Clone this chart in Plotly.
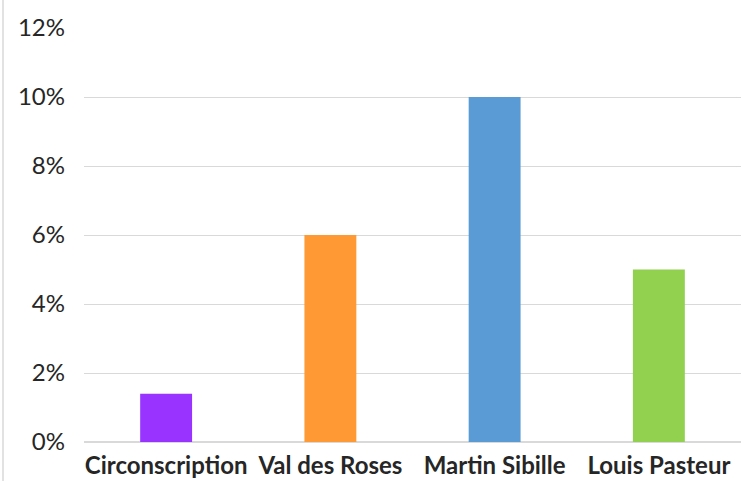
import plotly.graph_objects as go

categories = ["Circonscription", "Val des Roses", "Martin Sibille", "Louis Pasteur"]
values = [0.014, 0.06, 0.10, 0.05]
colors = ["#9933FF", "#FF9933", "#5B9BD5", "#92D050"]
y_ticks = [0, 0.02, 0.04, 0.06, 0.08, 0.10, 0.12]
y_labels = ["0%", "2%", "4%", "6%", "8%", "10%", "12%"]

fig = go.Figure(go.Bar(x=categories, y=values, marker=dict(color=colors, line=dict(width=0)),
                       hoverinfo="x+y"))

fig.update_layout(
    width=741, height=481,
    margin=dict(l=84, r=0, t=28, b=39),
    paper_bgcolor="white", plot_bgcolor="white",
    bargap=0.684,
    showlegend=False,
    font=dict(family="Lato, Carlito, Calibri, sans-serif", color="#262626"),
    xaxis=dict(showgrid=False, showline=False, zeroline=False, ticks="",
               ticklabelstandoff=7,
               tickfont=dict(size=24, family="Lato, sans-serif", weight="bold", color="#262626")),
    yaxis=dict(range=[0, 0.12], tickvals=y_ticks, ticktext=y_labels,
               showgrid=True, gridcolor="#D9D9D9", gridwidth=1,
               zeroline=True, zerolinecolor="#D9D9D9", zerolinewidth=1.5,
               showline=False, ticks="", ticklabelstandoff=18,
               tickfont=dict(size=24, color="#262626")),
    shapes=[dict(type="line", xref="paper", yref="paper",
                 x0=(3 - 84) / 657, x1=(3 - 84) / 657, y0=-39 / 414, y1=(481 - 39) / 414,
                 line=dict(color="#D9D9D9", width=1.5))],
)

fig.write_html("out.html", config={"displayModeBar": False},
               post_script="document.body.style.margin='0';document.body.style.overflow='hidden';")
